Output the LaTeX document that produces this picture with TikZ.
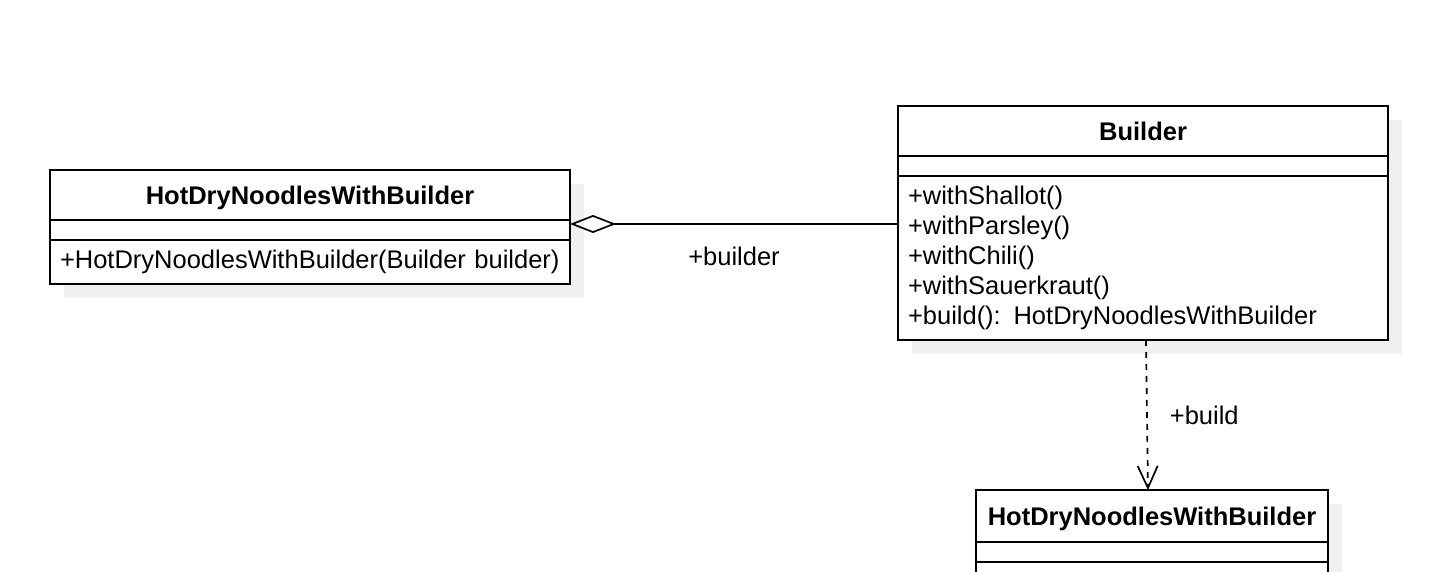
\documentclass[tikz,border=0pt]{standalone}
\usepackage{fontspec}
\setmainfont{Liberation Sans}
\usetikzlibrary{calc}
\usetikzlibrary{positioning}
\usetikzlibrary{arrows.meta}
\usetikzlibrary{backgrounds}

\newcommand{\umlfont}{\fontsize{25.5pt}{30pt}\selectfont}
\definecolor{shadowgray}{HTML}{F0F0F0}

\tikzset{
  classpart/.style={draw, fill=white, line width=1.7pt, outer sep=0pt, inner sep=0pt, font=\umlfont},
  classname/.style={classpart, minimum width=#1, text height=18.3pt, text depth=0pt, font=\umlfont\bfseries},
  classattr/.style={classpart, minimum width=#1, minimum height=20pt},
  classops/.style={classpart, text width=#1, inner xsep=10pt, align=left},
  classshadow/.style={fill=shadowgray},
  aggregation/.style={line width=1.7pt, {Diamond[open, length=46pt, width=18pt]}-},
  dependency/.style={line width=1.7pt, dash pattern=on 6pt off 6pt, -{Straight Barb[length=22pt, width=20pt]}},
  edgelabel/.style={inner sep=0pt, font=\umlfont}
}

\begin{document}
\begin{tikzpicture}[x=1pt, y=-1pt]
\useasboundingbox (0,0) rectangle (1438,572);

\node[classname=520pt, minimum height=50pt] (hdnName) at (310,195) {HotDryNoodlesWithBuilder};
\node[classattr=520pt, below=0pt of hdnName] (hdnAttr) {};
\node[classops=500pt, minimum height=44pt, below=0pt of hdnAttr] (hdnOps) {+HotDryNoodlesWithBuilder(Builder builder)};

\node[classname=490pt, minimum height=50pt] (bldName) at (1143,131) {Builder};
\node[classattr=490pt, below=0pt of bldName] (bldAttr) {};
\node[classops=470pt, minimum height=164pt, below=0pt of bldAttr] (bldOps)
  {+withShallot()\\+withParsley()\\+withChili()\\+withSauerkraut()\\+build(): HotDryNoodlesWithBuilder};

\node[classname=352pt, minimum height=52pt] (prodName) at (1152,516) {HotDryNoodlesWithBuilder};
\node[classattr=352pt, below=0pt of prodName] (prodAttr) {};
\node[classops=332pt, minimum height=44pt, below=0pt of prodAttr] (prodOps) {};

\begin{scope}[on background layer]
  \fill[white] (0,0) rectangle (1438,572);
  \foreach \hd/\ft in {hdnName/hdnOps, bldName/bldOps, prodName/prodOps}
    \fill[classshadow] ([shift={(14pt,-14pt)}]\hd.north west) rectangle ([shift={(14pt,-14pt)}]\ft.south east);
\end{scope}

\coordinate (aggFrom) at ($(hdnName.south east)+(0,4)$);
\draw[aggregation] (aggFrom) -- (aggFrom -| bldOps.west)
  node[midway, below=22pt, edgelabel] {+builder};

\draw[dependency] ([xshift=3pt]bldOps.south) -- ([xshift=-4pt]prodName.north)
  node[midway, right=22pt, edgelabel] {+build};
\end{tikzpicture}
\end{document}
